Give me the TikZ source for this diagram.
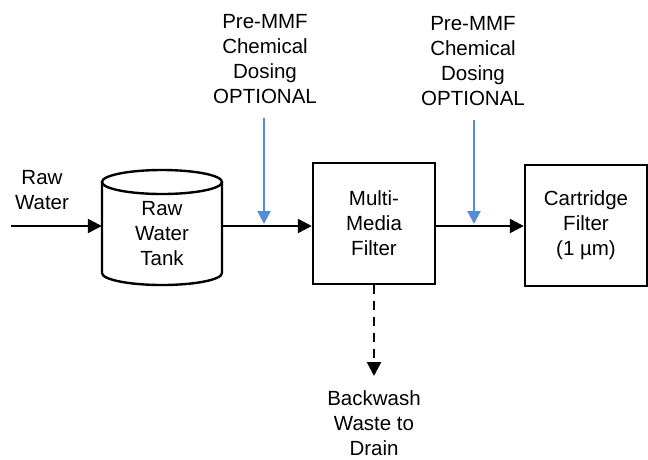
\documentclass[tikz,border=0pt]{standalone}
\usepackage{fontspec}
\setmainfont{Liberation Sans}
\usetikzlibrary{arrows.meta}
\definecolor{doseblue}{RGB}{85,142,213}
\begin{document}
\begin{tikzpicture}[x=1pt,y=-1pt,
  lbl/.style={align=center,font=\fontsize{20.5}{25}\selectfont,inner sep=0pt},
  unit/.style={lbl,draw,line width=2.4pt,minimum width=122pt,minimum height=121pt},
  flow/.style={line width=2.4pt,-{Triangle[length=14pt,width=14pt]}},
  dose/.style={doseblue,line width=2.2pt,-{Triangle[length=13pt,width=13pt]},shorten >=2pt},
  drain/.style={flow,dash pattern=on 9pt off 7pt}]
\useasboundingbox (0,0) rectangle (648,459);

% main process line
\coordinate (row) at (0,226);

% raw water inlet
\node[lbl] (raw) at (42,190.5) {Raw\\Water};
\coordinate (src) at (11,226);

% storage tank (cylinder)
\draw[line width=2.4pt] (162,182) ellipse [x radius=60pt,y radius=12pt];
\draw[line width=2.4pt] (102,182) -- (102,273)
  arc[start angle=180,end angle=360,x radius=60pt,y radius=12pt] -- (222,182);
\node[lbl,minimum width=120pt,minimum height=100pt] (tank) at (162,234) {Raw\\Water\\Tank};

% filters
\node[unit] (mmf) at (374,223.5) {Multi-\\Media\\Filter};
\node[unit] (cart) at (586,225.5) {Cartridge\\Filter\\(1 µm)};

% chemical dosing points
\node[lbl] (chem1) at (265,59.5) {Pre-MMF\\Chemical\\Dosing\\OPTIONAL};
\node[lbl] (chem2) at (473,61.5) {Pre-MMF\\Chemical\\Dosing\\OPTIONAL};
\coordinate (d1) at (264,118);
\coordinate (d2) at (474,120);

% backwash outlet
\node[lbl] (waste) at (374,423) {Backwash\\Waste to\\Drain};
\coordinate (drainend) at (374,376);

% connectors
\draw[flow] (src) -- (tank.west |- row);
\draw[flow] (tank.east |- row) -- (mmf.west |- row);
\draw[flow] (mmf.east |- row) -- (cart.west |- row);
\draw[dose] (d1) -- (d1 |- row);
\draw[dose] (d2) -- (d2 |- row);
\draw[drain] (mmf.south) -- (drainend);
\end{tikzpicture}
\end{document}
